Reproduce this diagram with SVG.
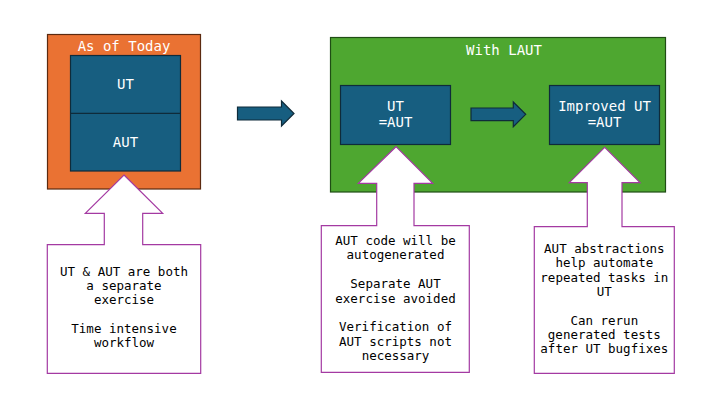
<svg xmlns="http://www.w3.org/2000/svg" width="720" height="405" viewBox="0 0 720 405">
<style>
text{font-family:"DejaVu Sans Mono","Liberation Mono",monospace;text-anchor:middle}
.t{fill:#ffffff;font-size:14px}
.c{fill:#000000;font-size:12.5px}
.blue{fill:#175e80;stroke:#0f2b3a;stroke-width:1.2}
.call{fill:#ffffff;stroke:#a43aa2;stroke-width:1.2;stroke-linejoin:miter}
</style>
<rect width="720" height="405" fill="#ffffff"/>
<g id="today">
<rect x="47.5" y="34.5" width="153" height="154.5" fill="#ea7233" stroke="#5b2a10" stroke-width="1.2"/>
<text class="t" x="124" y="51">As of Today</text>
</g>
<g id="ut-aut">
<rect class="blue" x="70.5" y="55.5" width="110" height="115.5"/>
<line x1="70.5" y1="113.3" x2="180.5" y2="113.3" stroke="#0f2b3a" stroke-width="1.2"/>
<text class="t" x="125.5" y="89">UT</text>
<text class="t" x="125.5" y="147">AUT</text>
</g>
<g id="laut">
<rect x="330.5" y="37.5" width="335" height="154.5" fill="#4ea730" stroke="#1f4d14" stroke-width="1.2"/>
<text class="t" x="504" y="55">With LAUT</text>
</g>
<g id="ut-eq-aut">
<rect class="blue" x="340.5" y="85.5" width="110" height="59"/>
<text class="t" x="395.5" y="111">UT</text>
<text class="t" x="395.5" y="127">=AUT</text>
</g>
<g id="improved">
<rect class="blue" x="549.5" y="85.5" width="110" height="59"/>
<text class="t" x="604.5" y="111">Improved UT</text>
<text class="t" x="604.5" y="127">=AUT</text>
</g>
<g id="connectors">
<path class="blue" d="M237.5,107 H281.5 V101 L294,113.5 L281.5,126 V120 H237.5 Z"/>
<path class="blue" d="M471,108 H513.3 V102 L525.7,114.3 L513.3,126.7 V120.7 H471 Z"/>
</g>
<g id="note-today">
<path class="call" d="M124,175 L162.7,213.3 H142.7 V244.7 H200.7 V373.3 H47.3 V244.7 H104.3 V213.3 H85.3 Z"/>
<text class="c" x="124" y="276">UT &amp; AUT are both</text>
<text class="c" x="124" y="290.2">a separate</text>
<text class="c" x="124" y="304.4">exercise</text>
<text class="c" x="124" y="332.8">Time intensive</text>
<text class="c" x="124" y="347">workflow</text>
</g>
<g id="note-laut">
<path class="call" d="M396,146.7 L432.7,183.3 H414 V225.7 H469.3 V372.3 H321.3 V225.7 H376.7 V183.3 H358.3 Z"/>
<text class="c" x="395.5" y="245">AUT code will be</text>
<text class="c" x="395.5" y="259.4">autogenerated</text>
<text class="c" x="395.5" y="288.2">Separate AUT</text>
<text class="c" x="395.5" y="302.6">exercise avoided</text>
<text class="c" x="395.5" y="331.4">Verification of</text>
<text class="c" x="395.5" y="345.8">AUT scripts not</text>
<text class="c" x="395.5" y="360.2">necessary</text>
</g>
<g id="note-improved">
<path class="call" d="M604.7,147.3 L640,182.7 H622 V226.7 H674.3 V373.3 H534.3 V226.7 H587.3 V182.7 H569.3 Z"/>
<text class="c" x="604.3" y="253">AUT abstractions</text>
<text class="c" x="604.3" y="267.3">help automate</text>
<text class="c" x="604.3" y="281.6">repeated tasks in</text>
<text class="c" x="604.3" y="295.9">UT</text>
<text class="c" x="604.3" y="324.5">Can rerun</text>
<text class="c" x="604.3" y="338.8">generated tests</text>
<text class="c" x="604.3" y="353.1">after UT bugfixes</text>
</g>
</svg>
